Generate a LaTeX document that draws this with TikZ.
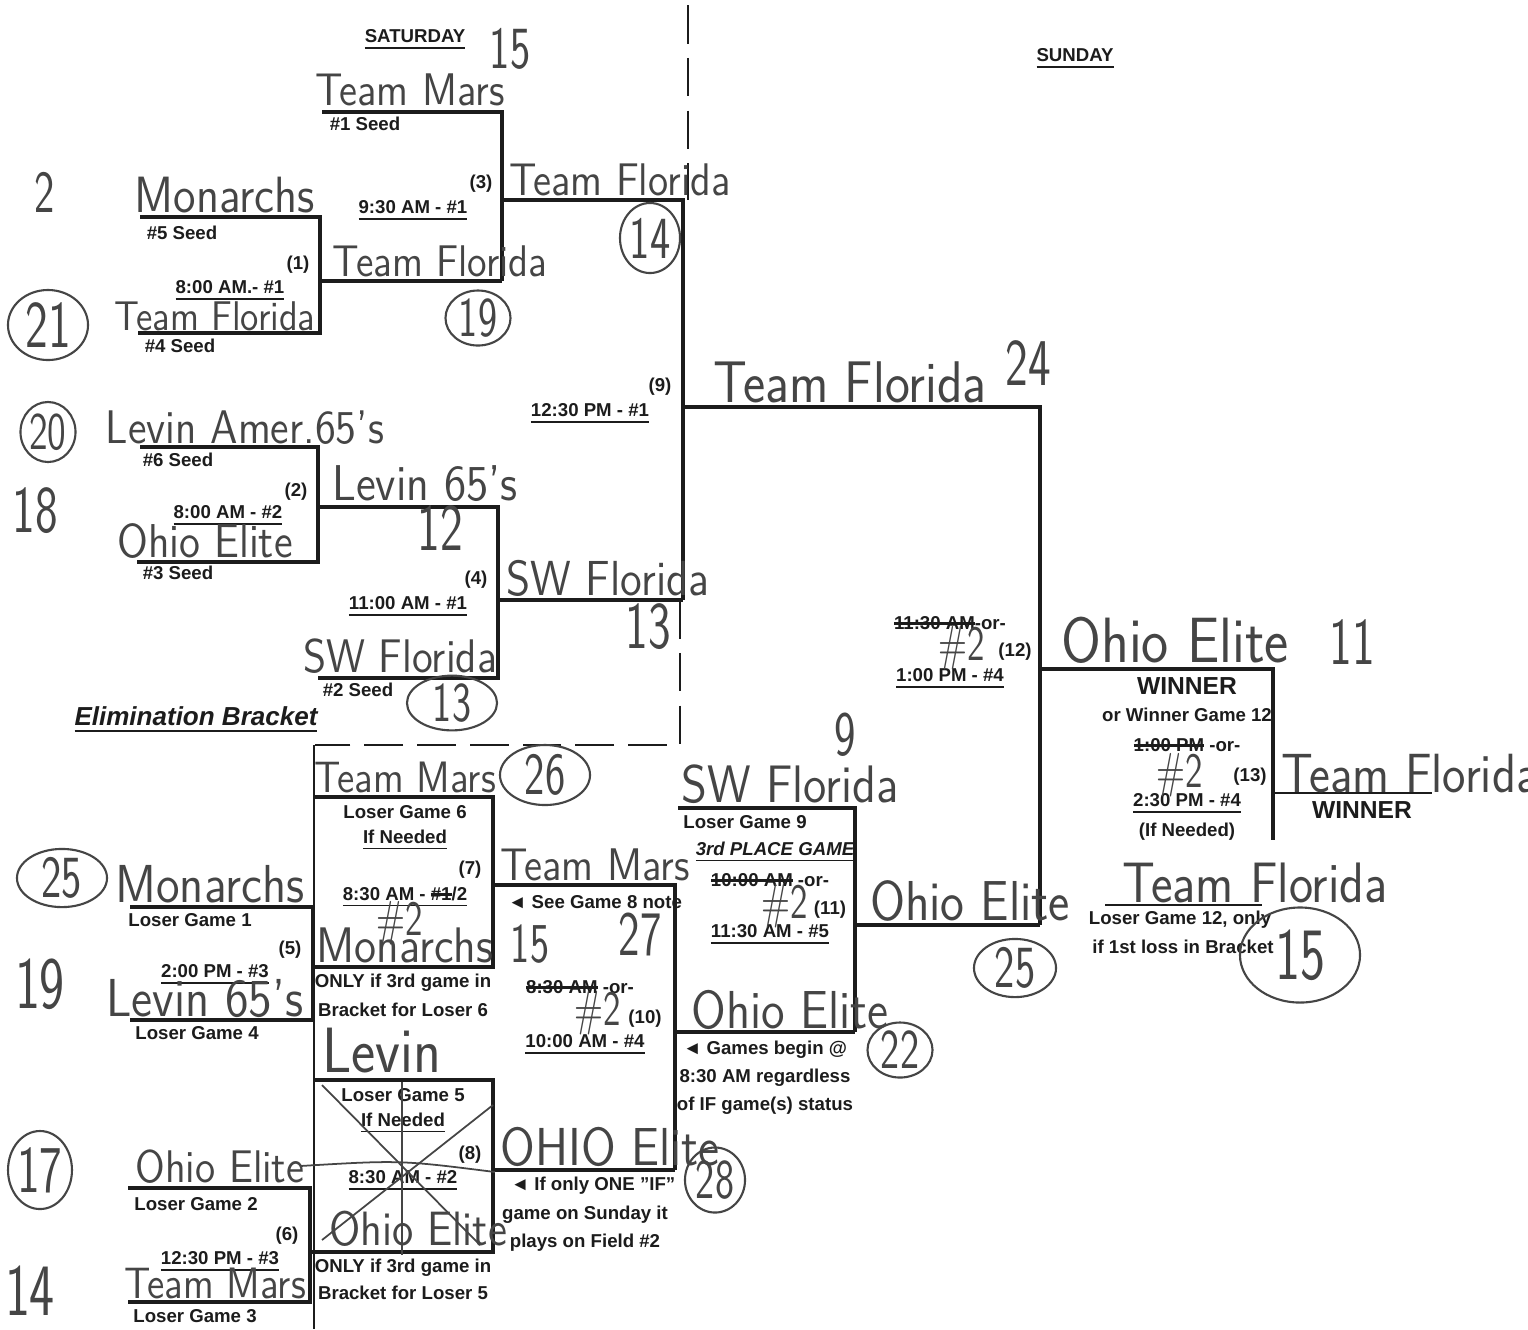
\documentclass[tikz,border=0pt]{standalone}
\usepackage{fontspec}
\setmainfont{Liberation Sans}
\usepackage{graphicx}
\usepackage{tikz}
\usetikzlibrary{shapes.geometric}
\definecolor{ink}{HTML}{1C1C1C}
\definecolor{pencil}{HTML}{454545}
\newcommand{\hw}[1]{\scalebox{0.9}[1]{#1}}
\newcommand{\hn}[1]{\scalebox{0.72}[1]{#1}}
\newsavebox{\strkbox}
\newcommand{\strk}[1]{\sbox{\strkbox}{#1}\rlap{\raisebox{0.35\ht\strkbox}{\rule{\wd\strkbox}{0.7pt}}}\usebox{\strkbox}}
\tikzset{
  prt/.style={font=\fontsize{5.3}{6.2}\selectfont\bfseries,text=ink,inner sep=0pt},
  bigprt/.style={font=\fontsize{7}{8}\selectfont\bfseries,text=ink,inner sep=0pt},
  hand/.style={font=\fontsize{#1}{#1}\selectfont\sffamily,text=pencil,inner sep=0pt,anchor=base},
  hand/.default=15,
  ring/.style={draw=pencil,ellipse,line width=0.6pt,inner sep=0pt,anchor=center},
  bline/.style={draw=ink,line width=1pt},
  sepline/.style={draw=ink,line width=0.6pt,dash pattern=on 11pt off 4pt},
  scrawl/.style={draw=pencil,line width=0.5pt}
}

\begin{document}
\begin{tikzpicture}[x=0.01cm,y=-0.01cm]
\useasboundingbox[fill=white] (0,0) rectangle (1528,1329);

% separators
\draw[sepline] (688,5) -- (688,200);
\draw[sepline] (680,600) -- (680,745) -- (315,745);
\draw[draw=ink,line width=0.6pt] (314,745) -- (314,1329);

% winners bracket
\draw[bline] (322,112) -| (502,281);
\draw[bline] (140,217) -| (320,333) -- (138,333);
\draw[bline] (320,281) -- (502,281);
\draw[bline] (502,200) -| (683,600);
\draw[bline] (140,447) -| (318,562) -- (137,562);
\draw[bline] (318,507) -| (498,678) -- (318,678);
\draw[bline] (498,600) -- (683,600);
\draw[bline] (683,407) -| (1040,925);
\draw[bline] (1040,669) -| (1273,840);
\draw[draw=ink,line width=0.6pt] (1275,793) -- (1432,793);
\draw[draw=ink,line width=0.6pt] (1105,905) -- (1262,905);

% elimination bracket
\draw[bline] (130,907) -| (313,1020) -- (130,1020);
\draw[bline] (315,797) -| (493,967) -- (315,967);
\draw[bline] (493,885) -| (675,1170);
\draw[bline] (128,1188) -| (310,1302) -- (128,1302);
\draw[bline] (313,1080) -| (493,1252) -- (310,1252);
\draw[bline] (493,1170) -- (675,1170);
\draw[bline] (675,1032) -- (855,1032);
\draw[bline] (678,808) -| (855,1032);
\draw[bline] (855,925) -- (1040,925);

% printed labels
\node[prt] (sat) at (415,40) {\underline{SATURDAY}};
\node[prt] (sun) at (1075,59) {\underline{SUNDAY}};
\node[prt] (seed1) at (365,124) {\#1 Seed};
\node[prt] (seed5) at (182,233) {\#5 Seed};
\node[prt] (g1) at (298,265) {(1)};
\node[prt] (t1) at (230,291) {\underline{8:00 AM.- \#1}};
\node[prt] (seed4) at (180,346) {\#4 Seed};
\node[prt] (t3) at (413,211) {\underline{9:30 AM - \#1}};
\node[prt] (g3) at (481,184) {(3)};
\node[prt] (g9) at (660,387) {(9)};
\node[prt] (t9) at (590,414) {\underline{12:30 PM - \#1}};
\node[prt] (seed6) at (178,460) {\#6 Seed};
\node[prt] (g2) at (296,492) {(2)};
\node[prt] (t2) at (228,516) {\underline{8:00 AM - \#2}};
\node[prt] (seed3) at (178,573) {\#3 Seed};
\node[prt] (g4) at (476,580) {(4)};
\node[prt] (t4) at (408,607) {\underline{11:00 AM - \#1}};
\node[prt] (seed2) at (358,690) {\#2 Seed};
\node[font=\fontsize{7.4}{8}\selectfont\bfseries\itshape,text=ink,inner sep=0pt] (elim) at (196,720) {\underline{Elimination Bracket}};

\node[prt] (l6) at (405,812) {Loser Game 6};
\node[prt] (if7) at (405,840) {\underline{If Needed}};
\node[prt] (g7) at (470,870) {(7)};
\node[prt] (t7) at (405,897) {\underline{8:30 AM - \strk{\#1}/2}};
\node[prt] (only6a) at (403,983) {ONLY if 3rd game in};
\node[prt] (only6b) at (403,1010) {Bracket for Loser 6};
\node[prt] (l1) at (190,920) {Loser Game 1};
\node[prt] (g5) at (290,950) {(5)};
\node[prt] (t5) at (215,975) {\underline{2:00 PM - \#3}};
\node[prt] (l4) at (197,1033) {Loser Game 4};
\node[prt] (note7) at (595,902) {◄ See Game 8 note};
\node[prt] (t10a) at (580,987) {\strk{8:30 AM} -or-};
\node[prt] (g10) at (645,1019) {(10)};
\node[prt] (t10) at (585,1045) {\underline{10:00 AM - \#4}};
\node[prt] (l9) at (745,822) {Loser Game 9};
\node[font=\fontsize{5.3}{6.2}\selectfont\bfseries\itshape,text=ink,inner sep=0pt] (third) at (775,852) {\underline{3rd PLACE GAME}};
\node[prt] (t11a) at (770,880) {\strk{10:00 AM} -or-};
\node[prt] (g11) at (830,910) {(11)};
\node[prt] (t11) at (770,935) {\underline{11:30 AM - \#5}};
\node[prt] (beg1) at (765,1050) {◄ Games begin @};
\node[prt] (beg2) at (765,1078) {8:30 AM regardless};
\node[prt] (beg3) at (765,1106) {of IF game(s) status};
\node[prt] (l5) at (403,1095) {Loser Game 5};
\node[prt] (if8) at (403,1123) {\underline{If Needed}};
\node[prt] (g8) at (470,1155) {(8)};
\node[prt] (t8) at (403,1181) {\underline{8:30 AM - \#2}};
\node[prt] (only5a) at (403,1268) {ONLY if 3rd game in};
\node[prt] (only5b) at (403,1293) {Bracket for Loser 5};
\node[prt] (l2) at (196,1204) {Loser Game 2};
\node[prt] (g6) at (287,1236) {(6)};
\node[prt] (t6) at (220,1262) {\underline{12:30 PM - \#3}};
\node[prt] (l3) at (195,1316) {Loser Game 3};
\node[prt] (one1) at (593,1186) {◄ If only ONE "IF"};
\node[prt] (one2) at (585,1215) {game on Sunday it};
\node[prt] (one3) at (585,1243) {plays on Field \#2};

\node[prt] (t12a) at (950,623) {\strk{11:30 AM}-or-};
\node[prt] (g12) at (1015,652) {(12)};
\node[prt] (t12) at (950,679) {\underline{1:00 PM - \#4}};
\node[bigprt] (win1) at (1187,686) {WINNER};
\node[prt] (orwin) at (1187,715) {or Winner Game 12};
\node[prt] (t13a) at (1187,745) {\strk{1:00 PM} -or-};
\node[prt] (g13) at (1250,777) {(13)};
\node[prt] (t13) at (1187,804) {\underline{2:30 PM - \#4}};
\node[prt] (if13) at (1187,832) {(If Needed)};
\node[bigprt] (win2) at (1362,810) {WINNER};
\node[prt] (l12a) at (1180,920) {Loser Game 12, only};
\node[prt] (l12b) at (1183,947) {if 1st loss in Bracket};

% handwritten names and scores
\node[hand=17] (s15) at (510,68) {\hn{15}};
\node[hand=13] (mars1) at (410,105) {\hw{Team Mars}};
\node[hand=17] (s2) at (45,212) {\hn{2}};
\node[hand=14.5] (mon1) at (225,212) {\hw{Monarchs}};
\node[hand=12.6] (fla1) at (440,276) {\hw{Team Florida}};
\node[hand=11.8] (fla0) at (215,330) {\hw{Team Florida}};
\node[hand=13] (fla3) at (620,195) {\hw{Team Florida}};
\node[hand=16.7] (fla9) at (850,402) {\hw{Team Florida}};
\node[hand=19] (s24) at (1028,385) {\hn{24}};
\node[hand=13.4] (lev0) at (245,443) {\hw{Levin Amer.65's}};
\node[hand=19] (s18) at (35,532) {\hn{18}};
\node[hand=13.5] (ohio0) at (205,557) {\hw{Ohio Elite}};
\node[hand=14.3] (lev2) at (425,500) {\hw{Levin 65's}};
\node[hand=19] (s12) at (440,550) {\hn{12}};
\node[hand=14] (swf4) at (608,595) {\hw{SW Florida}};
\node[hand=19] (s13) at (648,648) {\hn{13}};
\node[hand=13.4] (swf0) at (400,672) {\hw{SW Florida}};
\node[hand=18.2] (ohio12) at (1175,662) {\hw{Ohio Elite}};
\node[hand=19] (s11) at (1352,664) {\hn{11}};

\node[hand=12.5] (mars7) at (405,792) {\hw{Team Mars}};
\node[hand=15.2] (mon5) at (210,902) {\hw{Monarchs}};
\node[hand=21] (s19) at (40,1008) {\hn{19}};
\node[hand=15.2] (lev5) at (205,1016) {\hw{Levin 65's}};
\node[hand=14] (n7) at (400,935) {\hn{\#2}};
\node[hand=14.2] (mon7) at (405,962) {\hw{Monarchs}};
\node[hand=16] (s15b) at (530,962) {\hn{15}};
\node[hand=13] (mars10) at (595,880) {\hw{Team Mars}};
\node[hand=18] (s27) at (640,955) {\hn{27}};
\node[hand=14] (n10) at (598,1025) {\hn{\#2}};
\node[hand=15] (swf11) at (790,802) {\hw{SW Florida}};
\node[hand=18] (s9) at (845,755) {\hn{9}};
\node[hand=14] (n11) at (785,918) {\hn{\#2}};
\node[hand=15.2] (ohio10) at (790,1028) {\hw{Ohio Elite}};
\node[hand=16] (ohio11) at (970,920) {\hw{Ohio Elite}};
\node[hand=18.2] (lev8) at (382,1072) {\hw{Levin}};
\node[hand=15.2] (ohio8w) at (610,1165) {\hw{OHIO Elite}};
\node[hand=13.7] (ohio8) at (418,1245) {\hw{Ohio Elite}};
\node[hand=13] (ohio6) at (220,1182) {\hw{Ohio Elite}};
\node[hand=21] (s14) at (30,1315) {\hn{14}};
\node[hand=12.5] (mars6) at (215,1298) {\hw{Team Mars}};
\node[hand=14] (n12) at (962,660) {\hn{\#2}};
\node[hand=14] (n13) at (1180,787) {\hn{\#2}};
\node[hand=16.2] (fla13) at (1255,902) {\hw{Team Florida}};
\node[hand=15.7] (champ) at (1410,792) {\hw{Team Florida}};

% circled scores
\node[hand=19,ring,minimum width=0.8cm,minimum height=0.7cm] (r21) at (48,325) {\hn{21}};
\node[hand=16,ring,minimum width=0.65cm,minimum height=0.55cm] (r19) at (478,318) {\hn{19}};
\node[hand=17,ring,minimum width=0.6cm,minimum height=0.7cm] (r14) at (650,238) {\hn{14}};
\node[hand=15,ring,minimum width=0.55cm,minimum height=0.6cm] (r20) at (48,432) {\hn{20}};
\node[hand=16,ring,minimum width=0.9cm,minimum height=0.48cm] (r13) at (452,703) {\hn{13}};
\node[hand=17,ring,minimum width=0.9cm,minimum height=0.6cm] (r26) at (545,775) {\hn{26}};
\node[hand=17,ring,minimum width=0.9cm,minimum height=0.55cm] (r25a) at (62,878) {\hn{25}};
\node[hand=16,ring,minimum width=0.65cm,minimum height=0.55cm] (r22) at (900,1050) {\hn{22}};
\node[hand=16,ring,minimum width=0.6cm,minimum height=0.65cm] (r28) at (715,1180) {\hn{28}};
\node[hand=19,ring,minimum width=0.6cm,minimum height=0.78cm] (r17) at (40,1170) {\hn{17}};
\node[hand=17,ring,minimum width=0.82cm,minimum height=0.55cm] (r25b) at (1015,968) {\hn{25}};
\node[hand=21,ring,minimum width=1.2cm,minimum height=0.95cm] (r15) at (1300,955) {\hn{15}};

% crossed-out game 8
\draw[scrawl] (322,1085) -- (480,1245);
\draw[scrawl] (493,1105) -- (322,1240);
\draw[scrawl] (402,1082) -- (402,1255);
\draw[scrawl] (300,1166) .. controls (400,1160) .. (495,1172);
\end{tikzpicture}
\end{document}
